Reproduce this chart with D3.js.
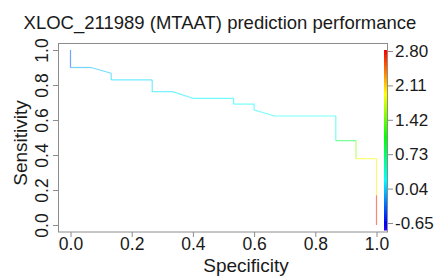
<!DOCTYPE html>
<html><head><meta charset="utf-8">
<script src="https://cdn.jsdelivr.net/npm/d3@7"></script>
<style>
body{margin:0;background:#fff;}
text{font-family:"Liberation Sans",Arial,sans-serif;fill:#1a1a1a;}
</style></head>
<body>
<svg id="c" width="439" height="277"></svg>
<script>
// ROC curve points (specificity, sensitivity) and cutoff at each point
const specificity = [0, 0, 0.067, 0.133, 0.133, 0.267, 0.267, 0.333, 0.4, 0.533, 0.533, 0.6, 0.6, 0.667, 0.867, 0.867, 0.933, 0.933, 1.0, 1.0, 1.0];
const sensitivity = [1.0, 0.9, 0.9, 0.867, 0.829, 0.829, 0.762, 0.762, 0.724, 0.724, 0.691, 0.691, 0.657, 0.623, 0.623, 0.482, 0.482, 0.379, 0.379, 0.17, 0.0];
const cutoffs = [-0.65, -0.35, -0.05, 0.0, 0.05, 0.08, 0.1, 0.12, 0.15, 0.18, 0.2, 0.22, 0.24, 0.26, 0.28, 0.3, 0.86, 1.5, 1.95, 2.0, 2.7];
const axisTicks = [0, 0.2, 0.4, 0.6, 0.8, 1.0];
const colorTicks = ["2.80", "2.11", "1.42", "0.73", "0.04", "-0.65"];
const cutMin = -0.65, cutMax = 2.80;
const title = "XLOC_211989 (MTAAT) prediction performance";

const svg = d3.select("#c");
const x = d3.scaleLinear().domain([0, 1]).range([70.5, 376.5]);
const y = d3.scaleLinear().domain([0, 1]).range([225, 50]);
const cs = d3.scaleLinear().domain([cutMin, cutMax]).range([223, 51]);
const col = c => d3.hsl(240 * (cutMax - c) / (cutMax - cutMin), 1, 0.5).toString();
const FONT = "Liberation Sans, Arial, sans-serif";

// box
svg.append("rect").attr("x", 58.5).attr("y", 43.5).attr("width", 329).attr("height", 188.5)
  .attr("fill", "none").attr("stroke", "#8c8c8c").attr("stroke-width", 1);

// x axis
const xa = svg.append("g").attr("transform", "translate(0,232)")
  .call(d3.axisBottom(x).tickValues(axisTicks).tickFormat(d3.format(".1f")).tickSize(5).tickPadding(1));
xa.select(".domain").remove();
xa.selectAll("line").attr("stroke", "#8c8c8c");
xa.selectAll("text").attr("font-size", 17.5).attr("fill", "#1a1a1a").style("font-family", FONT);

// y axis
const ya = svg.append("g").attr("transform", "translate(58,0)")
  .call(d3.axisLeft(y).tickValues(axisTicks).tickFormat(d3.format(".1f")).tickSize(5).tickPadding(3));
ya.select(".domain").remove();
ya.selectAll("line").attr("stroke", "#8c8c8c");
ya.selectAll("text").attr("font-size", 17.5).attr("fill", "#1a1a1a").style("font-family", FONT)
  .attr("text-anchor", "middle").attr("x", 0).attr("dy", 0)
  .attr("transform", "translate(-10,0) rotate(-90)");

// ROC segments
const segs = d3.range(specificity.length - 1);
svg.append("g").selectAll("line").data(segs).join("line")
  .attr("x1", i => x(specificity[i])).attr("y1", i => y(sensitivity[i]))
  .attr("x2", i => x(specificity[i + 1])).attr("y2", i => y(sensitivity[i + 1]))
  .attr("stroke", i => col(cutoffs[i + 1])).attr("stroke-opacity", 0.55).attr("stroke-width", 1.2);

// colorbar
const steps = d3.range(0, 180);
const barTop = 50, barBot = 230;
svg.append("g").selectAll("rect").data(steps).join("rect")
  .attr("x", 384).attr("width", 3)
  .attr("y", i => barTop + i * (barBot - barTop) / steps.length)
  .attr("height", (barBot - barTop) / steps.length + 0.5)
  .attr("fill", i => col(cs.invert(barTop + (i + 0.5) * (barBot - barTop) / steps.length)));
const ca = svg.append("g").attr("transform", "translate(388,0)")
  .call(d3.axisRight(cs).tickValues(colorTicks.map(Number)).tickFormat((d, i) => colorTicks[i]).tickSize(5).tickPadding(2));
ca.select(".domain").remove();
ca.selectAll("line").attr("stroke", "#8c8c8c");
ca.selectAll("text").attr("font-size", 17).attr("fill", "#1a1a1a").style("font-family", FONT);

// titles
svg.append("text").attr("x", 220).attr("y", 29).attr("text-anchor", "middle").attr("font-size", 18.5).text(title);
svg.append("text").attr("x", 246).attr("y", 272).attr("text-anchor", "middle").attr("font-size", 19).text("Specificity");
svg.append("text").attr("transform", "translate(27,143) rotate(-90)").attr("text-anchor", "middle").attr("font-size", 19).text("Sensitivity");
</script>
</body></html>
